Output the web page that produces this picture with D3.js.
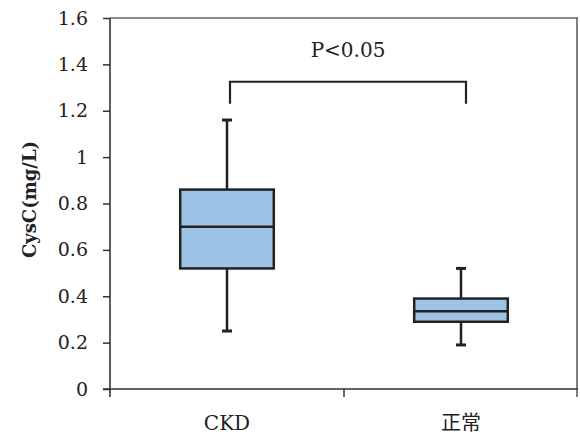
<!DOCTYPE html>
<html><head><meta charset="utf-8">
<script src="https://cdn.jsdelivr.net/npm/d3@7"></script>
<style>body{margin:0;background:#fff;}svg{display:block;}</style>
</head><body>
<script>
const categories = ["CKD", "正常"];
const whiskerLow = [0.25, 0.19];
const q1 = [0.52, 0.29];
const median = [0.70, 0.335];
const q3 = [0.86, 0.39];
const whiskerHigh = [1.16, 0.52];
const yTicks = [0, 0.2, 0.4, 0.6, 0.8, 1.0, 1.2, 1.4, 1.6];
const bracketTop = 1.325;
const bracketBottom = 1.23;
const bracketLabel = "P<0.05";
const yTitle = "CysC(mg/L)";

const W = 580, H = 436;
const m = {left: 110, top: 18, right: 2, bottom: 47};
const font = "'DejaVu Serif', 'Noto Sans CJK SC', serif";

const svg = d3.select("body").append("svg").attr("width", W).attr("height", H);
const x = d3.scaleBand().domain(categories).range([m.left, W - m.right]).padding(0);
const y = d3.scaleLinear().domain([0, 1.6]).range([H - m.bottom, m.top]);
const bw = x.bandwidth() * 0.4;
const cx = c => x(c) + x.bandwidth() / 2;

// frame (top & right)
svg.append("line").attr("x1", m.left).attr("x2", W - m.right).attr("y1", y(1.6)).attr("y2", y(1.6))
  .attr("stroke", "#666").attr("stroke-width", 1.5);
svg.append("line").attr("x1", W - m.right - 1).attr("x2", W - m.right - 1).attr("y1", y(1.6)).attr("y2", y(0) + 8)
  .attr("stroke", "#555").attr("stroke-width", 1.5);

// y axis
const ya = svg.append("g").attr("transform", `translate(${m.left},0)`)
  .call(d3.axisLeft(y).tickValues(yTicks).tickSize(7).tickPadding(15).tickFormat(d => String(+d.toFixed(1))));
ya.select(".domain").attr("stroke", "#333").attr("stroke-width", 1.6).attr("d", `M0,${y(1.6)}V${y(0) + 8}`);
ya.selectAll(".tick line").attr("stroke", "#333").attr("stroke-width", 1.5);
ya.selectAll(".tick text").attr("font-family", font).attr("font-size", 19).attr("fill", "#222");

// x axis
const xa = svg.append("g");
xa.append("line").attr("x1", m.left - 7).attr("x2", W - m.right).attr("y1", y(0)).attr("y2", y(0))
  .attr("stroke", "#333").attr("stroke-width", 1.6);
const bounds = categories.slice(1).map(c => x(c));
xa.selectAll(".bt").data(bounds).join("line").attr("class", "bt")
  .attr("x1", d => d).attr("x2", d => d).attr("y1", y(0)).attr("y2", y(0) + 8)
  .attr("stroke", "#333").attr("stroke-width", 1.5);
xa.selectAll(".xl").data(categories).join("text").attr("class", "xl")
  .attr("x", d => cx(d)).attr("y", 430).attr("text-anchor", "middle")
  .attr("font-family", font).attr("font-size", 20).attr("fill", "#222").text(d => d);

// y title
svg.append("text").attr("transform", `translate(36,${(y(0) + y(1.6)) / 2 - 4}) rotate(-90)`)
  .attr("text-anchor", "middle").attr("font-family", font).attr("font-weight", "bold")
  .attr("font-size", 18).attr("fill", "#222").text(yTitle);

// boxes
const g = svg.append("g");
const stroke = "#222";
categories.forEach((c, i) => {
  const xc = cx(c);
  g.append("line").attr("x1", xc).attr("x2", xc).attr("y1", y(whiskerHigh[i])).attr("y2", y(q3[i]))
    .attr("stroke", stroke).attr("stroke-width", 2.5);
  g.append("line").attr("x1", xc).attr("x2", xc).attr("y1", y(q1[i])).attr("y2", y(whiskerLow[i]))
    .attr("stroke", stroke).attr("stroke-width", 2.5);
  [whiskerHigh[i], whiskerLow[i]].forEach(v => {
    g.append("line").attr("x1", xc - 5).attr("x2", xc + 5).attr("y1", y(v)).attr("y2", y(v))
      .attr("stroke", stroke).attr("stroke-width", 3);
  });
  g.append("rect").attr("x", xc - bw / 2).attr("width", bw).attr("y", y(q3[i])).attr("height", y(q1[i]) - y(q3[i]))
    .attr("fill", "#9dc3e6").attr("stroke", stroke).attr("stroke-width", 2.5);
  g.append("line").attr("x1", xc - bw / 2).attr("x2", xc + bw / 2).attr("y1", y(median[i])).attr("y2", y(median[i]))
    .attr("stroke", stroke).attr("stroke-width", 2.5);
});

// bracket
const bx1 = cx(categories[0]) + 3, bx2 = cx(categories[1]) + 5;
svg.append("path").attr("d", `M${bx1},${y(bracketBottom)}V${y(bracketTop)}H${bx2}V${y(bracketBottom)}`)
  .attr("fill", "none").attr("stroke", "#222").attr("stroke-width", 2.2);
svg.append("text").attr("x", (bx1 + bx2) / 2).attr("y", 57).attr("text-anchor", "middle")
  .attr("font-family", font).attr("font-size", 20).attr("fill", "#222").text(bracketLabel);
</script>
</body></html>
